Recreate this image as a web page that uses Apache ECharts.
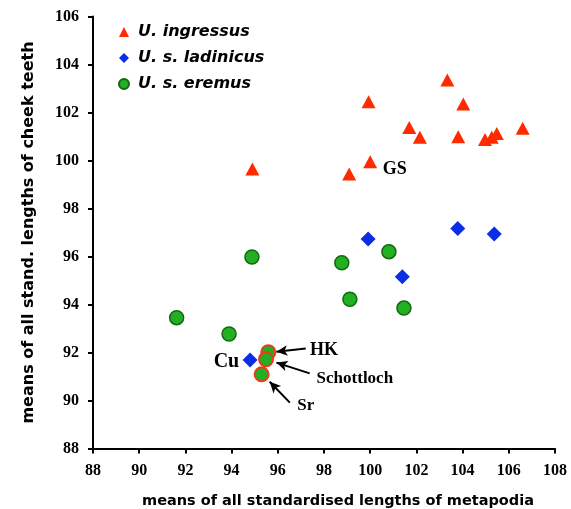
<!DOCTYPE html>
<html>
<head>
<meta charset="utf-8">
<script src="https://cdn.jsdelivr.net/npm/echarts@6/dist/echarts.min.js"></script>
<style>html,body{margin:0;padding:0;background:#fff}#c{width:571px;height:509px}</style>
</head>
<body>
<div id="c"></div>
<script>
// ---- data ----
const ingressusX = [94.9, 99.09, 100.0, 99.93, 103.34, 104.03, 101.69, 102.15, 103.81, 104.97, 105.26, 105.48, 106.6];
const ingressusY = [99.65, 99.44, 99.95, 102.45, 103.35, 102.35, 101.37, 100.97, 100.99, 100.88, 100.97, 101.13, 101.34];
const ladinicusX = [99.91, 103.79, 105.37, 101.39, 94.8];
const ladinicusY = [96.73, 97.17, 96.94, 95.16, 91.69];
const eremusX = [94.88, 98.77, 100.81, 99.12, 101.46, 91.62, 93.89];
const eremusY = [95.98, 95.74, 96.2, 94.22, 93.85, 93.45, 92.77];
// highlighted U. s. eremus sites (HK, Schottloch, Sr)
const siteNames = ['HK', 'Schottloch', 'Sr'];
const siteX = [95.59, 95.49, 95.3];
const siteY = [92.01, 91.72, 91.09];
const seriesNames = ['U. ingressus', 'U. s. ladinicus', 'U. s. eremus'];
const xTicks = {min: 88, max: 108, step: 2};
const yTicks = {min: 88, max: 106, step: 2};
// annotation texts (data coordinates)
const labelTexts = ['GS', 'Cu', 'HK', 'Schottloch', 'Sr'];
const labelX = [100.54, 94.33, 97.39, 97.68, 96.84];
const labelY = [99.65, 91.6, 92.1, 90.92, 89.78];
const labelAlign = ['left', 'right', 'left', 'left', 'left'];
// arrows: from text to point (data coordinates)
const arrowFrom = [[97.21, 92.17], [97.38, 91.13], [96.52, 89.91]];
const arrowTo = [[95.94, 92.03], [95.94, 91.58], [95.65, 90.78]];

const zip = (a, b) => a.map((v, i) => [v, b[i]]);

const chart = echarts.init(document.getElementById('c'));
const serif = 'Liberation Serif';
const sans = 'DejaVu Sans';

const greenFill = '#22b022';
const greenBorder = '#136813';

chart.setOption({
  animation: false,
  backgroundColor: '#fff',
  grid: {left: 93, right: 16, top: 16.5, bottom: 60.5, containLabel: false, outerBoundsMode: 'none'},
  legend: {
    orient: 'vertical',
    left: 113, top: 19,
    itemWidth: 10, itemHeight: 10, itemGap: 10,
    data: [
      {name: seriesNames[0], icon: 'triangle'},
      {name: seriesNames[1], icon: 'diamond'},
      {name: seriesNames[2], icon: 'circle'}
    ],
    textStyle: {fontFamily: sans, fontWeight: 'bold', fontStyle: 'italic', fontSize: 16, color: '#000', padding: [0, 0, 0, 4]}
  },
  xAxis: {
    type: 'value', min: xTicks.min, max: xTicks.max, interval: xTicks.step,
    name: 'means of all standardised lengths of metapodia',
    nameLocation: 'middle', nameGap: 45,
    nameTextStyle: {fontFamily: sans, fontWeight: 'bold', fontSize: 14.5, color: '#000', padding: [0, 0, 0, 28]},
    axisLine: {lineStyle: {color: '#000', width: 2}},
    axisTick: {show: true, length: 5, lineStyle: {color: '#000', width: 2}},
    axisLabel: {fontFamily: serif, fontWeight: 'bold', fontSize: 16, color: '#000', margin: 14},
    splitLine: {show: false}
  },
  yAxis: {
    type: 'value', min: yTicks.min, max: yTicks.max, interval: yTicks.step,
    name: 'means of all stand. lengths of cheek teeth',
    nameLocation: 'middle', nameGap: 56,
    nameTextStyle: {fontFamily: sans, fontWeight: 'bold', fontSize: 16, color: '#000'},
    axisLine: {lineStyle: {color: '#000', width: 2}},
    axisTick: {show: true, length: 5, lineStyle: {color: '#000', width: 2}},
    axisLabel: {fontFamily: serif, fontWeight: 'bold', fontSize: 16, color: '#000', margin: 14},
    splitLine: {show: false}
  },
  series: [
    {
      name: seriesNames[0], type: 'scatter', symbol: 'triangle', symbolSize: [14, 13],
      itemStyle: {color: '#ff2a00', opacity: 1},
      data: zip(ingressusX, ingressusY),
      markPoint: {
        symbol: 'circle', symbolSize: 0, silent: true,
        label: {show: true, position: [0, 0], verticalAlign: 'middle', fontFamily: serif, fontWeight: 'bold', fontSize: 18, color: '#000', formatter: p => p.name},
        data: [{name: labelTexts[0], coord: [labelX[0], labelY[0]], label: {align: labelAlign[0]}}]
      }
    },
    {
      name: seriesNames[1], type: 'scatter', symbol: 'diamond', symbolSize: [15, 15],
      itemStyle: {color: '#0a2ee6', opacity: 1},
      data: zip(ladinicusX, ladinicusY),
      markPoint: {
        symbol: 'circle', symbolSize: 0, silent: true,
        label: {show: true, position: [0, 0], verticalAlign: 'middle', fontFamily: serif, fontWeight: 'bold', fontSize: 20, color: '#000', formatter: p => p.name},
        data: [{name: labelTexts[1], coord: [labelX[1], labelY[1]], label: {align: labelAlign[1]}}]
      }
    },
    {
      name: seriesNames[2], type: 'scatter', symbol: 'circle', symbolSize: 14,
      itemStyle: {color: greenFill, borderColor: greenBorder, borderWidth: 1.5, opacity: 1},
      data: zip(eremusX, eremusY)
    },
    {
      name: seriesNames[2], type: 'scatter', symbol: 'circle', symbolSize: 14,
      itemStyle: {color: greenFill, borderColor: '#ee3a1c', borderWidth: 2, opacity: 1},
      data: zip(siteX, siteY).map((p, i) => ({name: siteNames[i], value: p})),
      markLine: {
        silent: true, animation: false,
        symbol: ['none', 'arrow'], symbolSize: [8, 11],
        lineStyle: {color: '#000', width: 2, type: 'solid'},
        label: {show: false},
        data: arrowFrom.map((f, i) => [{coord: f}, {coord: arrowTo[i]}])
      },
      markPoint: {
        symbol: 'circle', symbolSize: 0, silent: true,
        label: {show: true, position: [0, 0], verticalAlign: 'middle', fontFamily: serif, fontWeight: 'bold', fontSize: 18, color: '#000', formatter: p => p.name},
        data: [2, 3, 4].map(i => ({name: labelTexts[i], coord: [labelX[i], labelY[i]], label: {align: labelAlign[i], fontSize: i === 2 ? 18 : 17}}))
      }
    }
  ]
});
</script>
</body>
</html>
